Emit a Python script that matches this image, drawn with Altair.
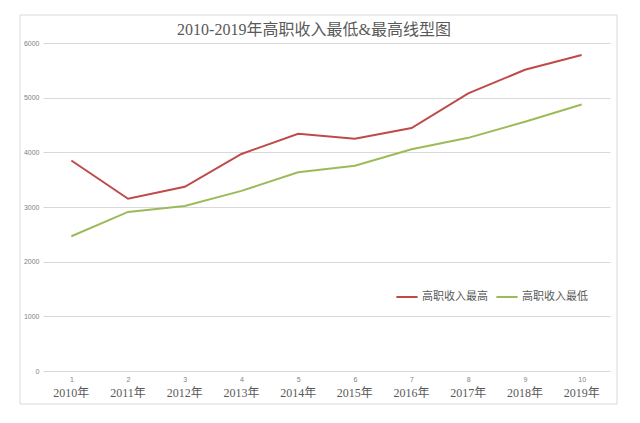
import altair as alt
import pandas as pd

idx = list(range(1, 11))
years = ["2010年", "2011年", "2012年", "2013年", "2014年",
         "2015年", "2016年", "2017年", "2018年", "2019年"]
max_vals = [3850, 3150, 3370, 3970, 4340, 4250, 4445, 5080, 5510, 5780]
min_vals = [2465, 2910, 3020, 3295, 3635, 3755, 4055, 4265, 4560, 4875]
series_names = ["高职收入最高", "高职收入最低"]
colors = ["#BE4B48", "#9BBB59"]
y_ticks = [0, 1000, 2000, 3000, 4000, 5000, 6000]
title_text = "2010-2019年高职收入最低&最高线型图"

rows = []
for i, yr, a, b in zip(idx, years, max_vals, min_vals):
    rows.append({"idx": i, "year": yr, "series": series_names[0], "value": a})
    rows.append({"idx": i, "year": yr, "series": series_names[1], "value": b})
df = pd.DataFrame(rows)
years_df = pd.DataFrame({"idx": idx, "year": years})
title_df = pd.DataFrame({"t": [title_text]})

x_enc = alt.X(
    "idx:O",
    scale=alt.Scale(type="point", padding=0.5),
    axis=alt.Axis(title=None, labelAngle=0, labelFontSize=7, labelColor="#7f7f7f",
                  labelFont="Liberation Sans", ticks=False, domain=False,
                  labelPadding=4, grid=False),
)

frame = alt.Chart(pd.DataFrame({"k": [0]})).mark_rect(
    fillOpacity=0, stroke="#d9d9d9", strokeWidth=1
).encode(x=alt.value(-23), x2=alt.value(574), y=alt.value(-28), y2=alt.value(361))

title_mark = alt.Chart(title_df).mark_text(
    font="Liberation Serif, Noto Sans CJK SC", fontSize=16, color="#595959",
    baseline="middle", align="center"
).encode(x=alt.value(271), y=alt.value(-13), text="t:N")

lines = alt.Chart(df).mark_line(strokeWidth=2).encode(
    x=x_enc,
    y=alt.Y("value:Q", scale=alt.Scale(domain=[0, 6000]),
            axis=alt.Axis(values=y_ticks, title=None, labelFontSize=7,
                          labelColor="#7f7f7f", labelFont="Liberation Sans",
                          ticks=False, domain=False, labelPadding=4,
                          gridColor="#d9d9d9", format="d")),
    color=alt.Color("series:N",
                    scale=alt.Scale(domain=series_names, range=colors),
                    legend=alt.Legend(orient="none", legendX=352, legendY=242,
                                      direction="horizontal", title=None,
                                      symbolType="stroke", symbolStrokeWidth=2,
                                      symbolSize=450, labelFontSize=11,
                                      labelFont="Noto Sans CJK SC",
                                      labelColor="#595959", columnPadding=4,
                                      labelOffset=3)),
    order=alt.Order("idx:O"),
)

year_text = alt.Chart(years_df).mark_text(
    font="Liberation Serif, Noto Sans CJK SC", fontSize=12, color="#595959",
    baseline="middle", align="center"
).encode(x=x_enc, y=alt.value(350), text="year:N")

chart = alt.layer(frame, title_mark, lines, year_text).properties(
    width=567,
    height=328,
    autosize=alt.AutoSizeParams(type="none"),
    padding={"left": 35, "top": 35, "right": 22, "bottom": 40},
).configure_view(stroke=None)

chart.save("out.html", embed_options={"renderer": "svg", "actions": False})
